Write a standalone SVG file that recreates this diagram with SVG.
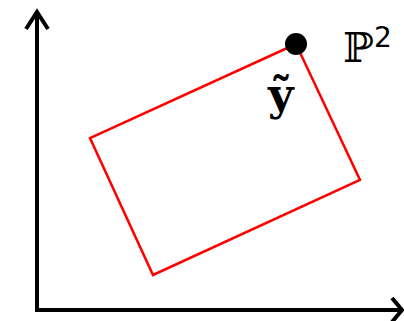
<svg xmlns="http://www.w3.org/2000/svg" width="404" height="321" viewBox="0 0 404 321">
<style>
.ax{fill:none;stroke:#000;stroke-width:4;stroke-linecap:butt;stroke-linejoin:miter}
</style>
<rect width="404" height="321" fill="#fff"/>
<g id="axes" class="ax">
<path d="M37,310 V12"/>
<path d="M26,29 L37,12 L48,29"/>
<path d="M35,310 H402"/>
<path d="M392,298 L402,310 L392,322"/>
</g>
<g id="rect">
<polygon points="296,44 360,180 153,275 90,138" fill="none" stroke="#ff0000" stroke-width="2.5"/>
</g>
<g id="point">
<circle cx="296" cy="44" r="11" fill="#000"/>
<text x="268" y="110" font-family="DejaVu Serif, serif" font-weight="bold" font-size="44">ỹ</text>
</g>
<g id="label">
<text x="343" y="62" font-family="DejaVu Serif, serif" font-size="41">ℙ</text>
<text x="374" y="47" font-family="DejaVu Sans, sans-serif" font-size="28">2</text>
</g>
</svg>
